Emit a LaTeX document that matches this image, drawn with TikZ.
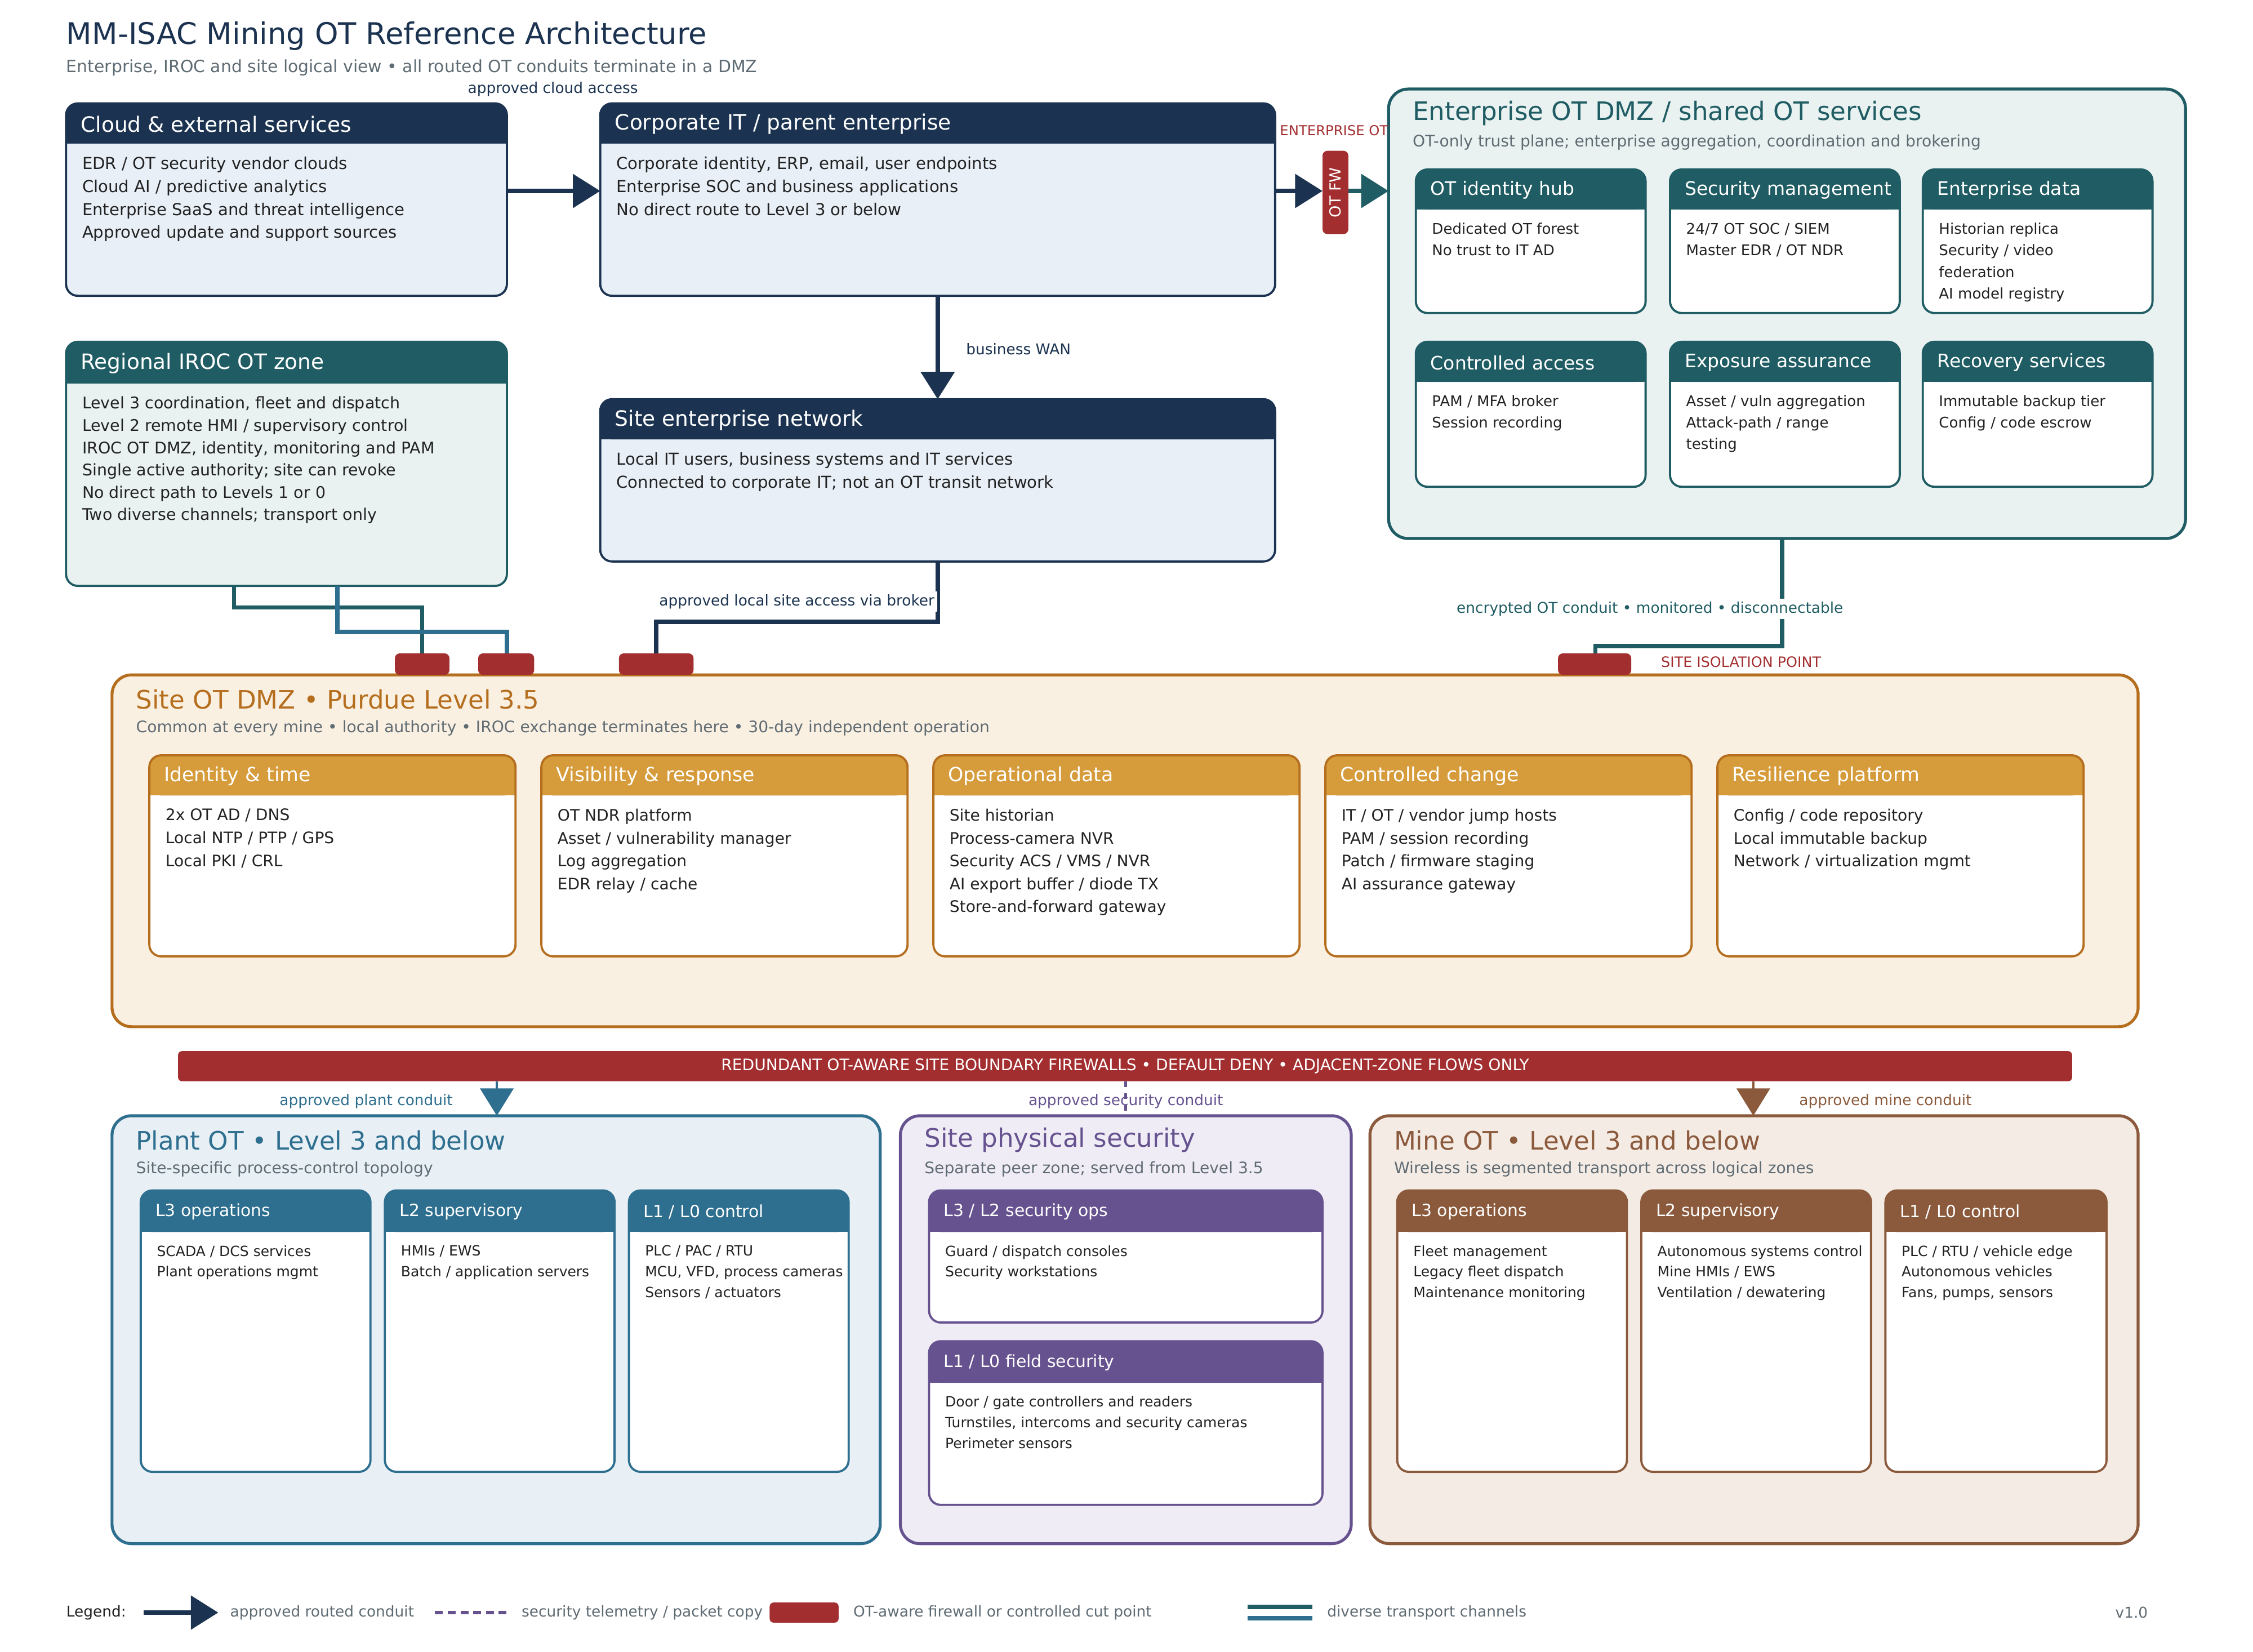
\documentclass[tikz,border=0pt]{standalone}
\usepackage{fontspec}
\setmainfont{DejaVu Sans}
\usetikzlibrary{arrows.meta}
\definecolor{navy}{HTML}{1B3350}
\definecolor{navyfill}{HTML}{E8EFF7}
\definecolor{teal}{HTML}{1F5C63}
\definecolor{tealfill}{HTML}{E9F2F1}
\definecolor{fwred}{HTML}{A32E30}
\definecolor{orb}{HTML}{B56E1E}
\definecolor{orh}{HTML}{D69B3A}
\definecolor{orfill}{HTML}{FAF0E1}
\definecolor{pblue}{HTML}{2E6E8E}
\definecolor{pbfill}{HTML}{E8F0F6}
\definecolor{purp}{HTML}{66528F}
\definecolor{purfill}{HTML}{F0ECF6}
\definecolor{brn}{HTML}{8B5A3C}
\definecolor{brnfill}{HTML}{F4EBE4}
\definecolor{gtext}{HTML}{5F6B73}
\definecolor{dtext}{HTML}{222222}
\tikzset{
 fs/.style 2 args={font=\fontsize{#1}{#2}\selectfont},
 big fill/.style={fill=navyfill}, big hdr/.style={fill=navy}, big frame/.style={draw=navy,line width=1.1pt},
 big htext/.style={text=white,fs={10.8}{12}}, big btext/.style={text=dtext,fs={8.4}{11.7}},
 iroc fill/.style={fill=tealfill}, iroc hdr/.style={fill=teal}, iroc frame/.style={draw=teal,line width=1.1pt},
 iroc htext/.style={text=white,fs={10.8}{12}}, iroc btext/.style={text=dtext,fs={8.2}{11.4}},
 ent fill/.style={fill=white}, ent hdr/.style={fill=teal}, ent frame/.style={draw=teal,line width=1.1pt},
 ent htext/.style={text=white,fs={9.5}{11}}, ent btext/.style={text=dtext,fs={7.5}{11}},
 dmz fill/.style={fill=white}, dmz hdr/.style={fill=orh}, dmz frame/.style={draw=orb,line width=1.1pt},
 dmz htext/.style={text=white,fs={10}{11}}, dmz btext/.style={text=dtext,fs={8.1}{11.7}},
 pl fill/.style={fill=white}, pl hdr/.style={fill=pblue}, pl frame/.style={draw=pblue,line width=1.1pt},
 pl htext/.style={text=white,fs={8.6}{10}}, pl btext/.style={text=dtext,fs={7.2}{10.6}},
 pu fill/.style={fill=white}, pu hdr/.style={fill=purp}, pu frame/.style={draw=purp,line width=1.1pt},
 pu htext/.style={text=white,fs={8.6}{10}}, pu btext/.style={text=dtext,fs={7.2}{10.6}},
 br fill/.style={fill=white}, br hdr/.style={fill=brn}, br frame/.style={draw=brn,line width=1.1pt},
 br htext/.style={text=white,fs={8.6}{10}}, br btext/.style={text=dtext,fs={7.2}{10.6}},
 conduit/.style={line width=2.2pt},
 bigtip/.style={-{Triangle[length=14pt,width=17pt]}},
 smalltip/.style={-{Triangle[length=7pt,width=9pt]}},
 zonet/.style={anchor=west,fs={13}{14}},
 zones/.style={anchor=west,text=gtext,fs={8.1}{9}},
 lbl/.style={fs={7.6}{8}},
}
\newcommand\card[9]{%
 \fill[#7 fill, rounded corners=6pt] (#2,#3) rectangle (#4,#5);
 \fill[#7 hdr, rounded corners=6pt] (#2,#3) rectangle (#4,{#3+#6});
 \fill[#7 hdr] (#2,{#3+#6/2}) rectangle (#4,{#3+#6});
 \draw[#7 frame, rounded corners=6pt] (#2,#3) rectangle (#4,#5);
 \node[anchor=west, inner sep=0, #7 htext] (#1-h) at ({#2+10},{#3+#6/2+0.5}) {#8};
 \node[anchor=north west, inner sep=0, align=left, #7 btext] (#1-b) at ({#2+11},{#3+#6+9}) {#9};
}
\newcommand\fwbox[5]{%
 \fill[fwred, rounded corners=2.5pt] (#2,#3) rectangle (#4,#5);
 \coordinate (#1) at ({(#2+#4)/2},#3);
}
\begin{document}
\begin{tikzpicture}[x=0.0258cm,y=-0.0258cm]
\useasboundingbox[fill=white] (0,0) rectangle (1569,1150.4);
% title
\node[anchor=west,inner sep=0,text=navy,fs={15.2}{17}] (title) at (46,25) {MM-ISAC Mining OT Reference Architecture};
\node[anchor=west,inner sep=0,text=gtext,fs={8.6}{10}] (subtitle) at (46,47) {Enterprise, IROC and site logical view \textbullet{} all routed OT conduits terminate in a DMZ};
% top boxes
\card{cloud}{46}{72}{353}{206}{28}{big}{Cloud \& external services}{EDR / OT security vendor clouds\\Cloud AI / predictive analytics\\Enterprise SaaS and threat intelligence\\Approved update and support sources}
\card{corp}{418}{72}{888}{206}{28}{big}{Corporate IT / parent enterprise}{Corporate identity, ERP, email, user endpoints\\Enterprise SOC and business applications\\No direct route to Level 3 or below}
\card{sen}{418}{278}{888}{391}{28}{big}{Site enterprise network}{Local IT users, business systems and IT services\\Connected to corporate IT; not an OT transit network}
\card{iroc}{46}{238}{353}{408}{29}{iroc}{Regional IROC OT zone}{Level 3 coordination, fleet and dispatch\\Level 2 remote HMI / supervisory control\\IROC OT DMZ, identity, monitoring and PAM\\Single active authority; site can revoke\\No direct path to Levels 1 or 0\\Two diverse channels; transport only}
\node[text=navy,lbl] (lcloud) at (385,62) {approved cloud access};
% enterprise DMZ
\draw[teal,fill=tealfill,line width=1.5pt,rounded corners=10pt] (967,62) rectangle (1522,375);
\node[zonet,text=teal] (entt) at (979,79) {Enterprise OT DMZ / shared OT services};
\node[zones] (ents) at (979,99) {OT-only trust plane; enterprise aggregation, coordination and brokering};
\card{e1}{986}{118}{1146}{218}{28}{ent}{OT identity hub}{Dedicated OT forest\\No trust to IT AD}
\card{e2}{1163}{118}{1323}{218}{28}{ent}{Security management}{24/7 OT SOC / SIEM\\Master EDR / OT NDR}
\card{e3}{1339}{118}{1499}{218}{28}{ent}{Enterprise data}{Historian replica\\Security / video\\federation\\AI model registry}
\card{e4}{986}{238}{1146}{339}{28}{ent}{Controlled access}{PAM / MFA broker\\Session recording}
\card{e5}{1163}{238}{1323}{339}{28}{ent}{Exposure assurance}{Asset / vuln aggregation\\Attack-path / range\\testing}
\card{e6}{1339}{238}{1499}{339}{28}{ent}{Recovery services}{Immutable backup tier\\Config / code escrow}
% enterprise OT FW
\node[text=fwred,fs={7}{8}] (entotl) at (929,91) {ENTERPRISE OT};
\coordinate (cloudR) at (353,133); \coordinate (corpL) at (418,133);
\coordinate (corpR) at (888,133); \coordinate (fwL) at (921,133);
\coordinate (fwR) at (939,133); \coordinate (entL) at (967,133);
\draw[navy,conduit,bigtip] (cloudR) -- (corpL);
\draw[navy,conduit,bigtip] (corpR) -- (fwL);
\draw[teal,conduit,bigtip] (fwR) -- (entL);
\fill[fwred,rounded corners=2.5pt] (921,105) rectangle (939,163);
\node[rotate=90,text=white,fs={7.8}{8}] (otfw) at (930,134) {OT FW};
% business WAN
\coordinate (corpB) at (653,206); \coordinate (senT) at (653,278);
\draw[navy,conduit,bigtip] (corpB) -- (senT);
\node[anchor=west,text=navy,lbl] (bwan) at (668,243) {business WAN};
% site DMZ zone
\draw[orb,fill=orfill,line width=1.5pt,rounded corners=10pt] (78,470) rectangle (1489,715);
% connectors to site DMZ
\coordinate (iroc1) at (163,408); \coordinate (iroc2) at (235,408);
\coordinate (senB) at (653,391); \coordinate (entB) at (1241,375);
\coordinate (dmzA) at (457,470); \coordinate (dmzB) at (1111,470);
\draw[teal,conduit] (iroc1) -- ++(0,15) -| (294,460);
\draw[pblue,conduit] (iroc2) -- ++(0,32) -| (353,460);
\draw[navy,conduit,smalltip] (senB) -- ++(0,42) -| (dmzA);
\draw[teal,conduit,smalltip] (entB) -- ++(0,75) -| (dmzB);
\fwbox{fw1}{275}{455}{313}{470}
\fwbox{fw2}{333}{455}{372}{470}
\fwbox{fw3}{431}{455}{483}{470}
\fwbox{fw4}{1085}{455}{1136}{470}
\node[anchor=east,fill=white,inner sep=1.5pt,text=navy,lbl] (lbroker) at (653,419) {approved local site access via broker};
\node[fill=white,inner sep=1.5pt,text=teal,lbl] (lenc) at (1149,424) {encrypted OT conduit \textbullet{} monitored \textbullet{} disconnectable};
\node[anchor=west,text=fwred,fs={7.3}{8}] (lsip) at (1152,461) {SITE ISOLATION POINT};
\node[zonet,text=orb] (dmzt) at (90,487) {Site OT DMZ \textbullet{} Purdue Level 3.5};
\node[zones] (dmzs) at (90,507) {Common at every mine \textbullet{} local authority \textbullet{} IROC exchange terminates here \textbullet{} 30-day independent operation};
\card{d1}{104}{526}{359}{666}{28}{dmz}{Identity \& time}{2x OT AD / DNS\\Local NTP / PTP / GPS\\Local PKI / CRL}
\card{d2}{377}{526}{632}{666}{28}{dmz}{Visibility \& response}{OT NDR platform\\Asset / vulnerability manager\\Log aggregation\\EDR relay / cache}
\card{d3}{650}{526}{905}{666}{28}{dmz}{Operational data}{Site historian\\Process-camera NVR\\Security ACS / VMS / NVR\\AI export buffer / diode TX\\Store-and-forward gateway}
\card{d4}{923}{526}{1178}{666}{28}{dmz}{Controlled change}{IT / OT / vendor jump hosts\\PAM / session recording\\Patch / firmware staging\\AI assurance gateway}
\card{d5}{1196}{526}{1451}{666}{28}{dmz}{Resilience platform}{Config / code repository\\Local immutable backup\\Network / virtualization mgmt}
% boundary firewall bar
\fill[fwred,rounded corners=2pt] (124,732) rectangle (1443,753);
\node[text=white,fs={8.1}{9}] (fwbar) at (783.5,742.5) {REDUNDANT OT-AWARE SITE BOUNDARY FIREWALLS \textbullet{} DEFAULT DENY \textbullet{} ADJACENT-ZONE FLOWS ONLY};
% bottom zones
\draw[pblue,fill=pbfill,line width=1.5pt,rounded corners=10pt] (78,777) rectangle (613,1075);
\draw[purp,fill=purfill,line width=1.5pt,rounded corners=10pt] (627,777) rectangle (941,1075);
\draw[brn,fill=brnfill,line width=1.5pt,rounded corners=10pt] (954,777) rectangle (1489,1075);
\coordinate (barP) at (346,753); \coordinate (plT) at (346,777);
\coordinate (barS) at (784,753); \coordinate (puT) at (784,777);
\coordinate (barM) at (1221,753); \coordinate (mnT) at (1221,777);
\draw[pblue,line width=1.3pt,bigtip] (barP) -- (plT);
\draw[purp,line width=1.3pt,dashed] (barS) -- (puT);
\draw[brn,line width=1.3pt,bigtip] (barM) -- (mnT);
\node[text=pblue,lbl] (lpl) at (255,767) {approved plant conduit};
\node[text=purp,lbl] (lpu) at (784,767) {approved security conduit};
\node[text=brn,lbl] (lmn) at (1313,767) {approved mine conduit};
\node[zonet,text=pblue] (plt) at (90,794) {Plant OT \textbullet{} Level 3 and below};
\node[zones] (pls) at (90,814) {Site-specific process-control topology};
\node[zonet,text=purp] (put) at (639,794) {Site physical security};
\node[zones] (pus) at (639,814) {Separate peer zone; served from Level 3.5};
\node[zonet,text=brn] (mnt) at (966,794) {Mine OT \textbullet{} Level 3 and below};
\node[zones] (mns) at (966,814) {Wireless is segmented transport across logical zones};
\card{p1}{98}{829}{258}{1025}{29}{pl}{L3 operations}{SCADA / DCS services\\Plant operations mgmt}
\card{p2}{268}{829}{428}{1025}{29}{pl}{L2 supervisory}{HMIs / EWS\\Batch / application servers}
\card{p3}{438}{829}{591}{1025}{29}{pl}{L1 / L0 control}{PLC / PAC / RTU\\MCU, VFD, process cameras\\Sensors / actuators}
\card{s1}{647}{829}{921}{921}{29}{pu}{L3 / L2 security ops}{Guard / dispatch consoles\\Security workstations}
\card{s2}{647}{934}{921}{1048}{29}{pu}{L1 / L0 field security}{Door / gate controllers and readers\\Turnstiles, intercoms and security cameras\\Perimeter sensors}
\card{m1}{973}{829}{1133}{1025}{29}{br}{L3 operations}{Fleet management\\Legacy fleet dispatch\\Maintenance monitoring}
\card{m2}{1143}{829}{1303}{1025}{29}{br}{L2 supervisory}{Autonomous systems control\\Mine HMIs / EWS\\Ventilation / dewatering}
\card{m3}{1313}{829}{1467}{1025}{29}{br}{L1 / L0 control}{PLC / RTU / vehicle edge\\Autonomous vehicles\\Fans, pumps, sensors}
% legend
\node[anchor=west,inner sep=0,text=dtext,lbl] (lg) at (46,1123) {Legend:};
\coordinate (lgA) at (100,1123); \coordinate (lgB) at (152,1123);
\draw[navy,conduit,bigtip] (lgA) -- (lgB);
\node[anchor=west,inner sep=0,text=gtext,lbl] (lg1) at (160,1123) {approved routed conduit};
\coordinate (lgC) at (303,1123); \coordinate (lgD) at (353,1123);
\draw[purp,line width=1.5pt,dash pattern=on 4pt off 2.5pt] (lgC) -- (lgD);
\node[anchor=west,inner sep=0,text=gtext,lbl] (lg2) at (363,1123) {security telemetry / packet copy};
\fill[fwred,rounded corners=2pt] (536,1116) rectangle (584,1130);
\node[anchor=west,inner sep=0,text=gtext,lbl] (lg3) at (594,1123) {OT-aware firewall or controlled cut point};
\coordinate (lgE) at (869,1119); \coordinate (lgF) at (914,1119);
\coordinate (lgG) at (869,1127); \coordinate (lgH) at (914,1127);
\draw[teal,conduit] (lgE) -- (lgF);
\draw[pblue,conduit] (lgG) -- (lgH);
\node[anchor=west,inner sep=0,text=gtext,lbl] (lg4) at (924,1123) {diverse transport channels};
\node[anchor=east,inner sep=0,text=gtext,lbl] (ver) at (1496,1123) {v1.0};
\end{tikzpicture}
\end{document}
